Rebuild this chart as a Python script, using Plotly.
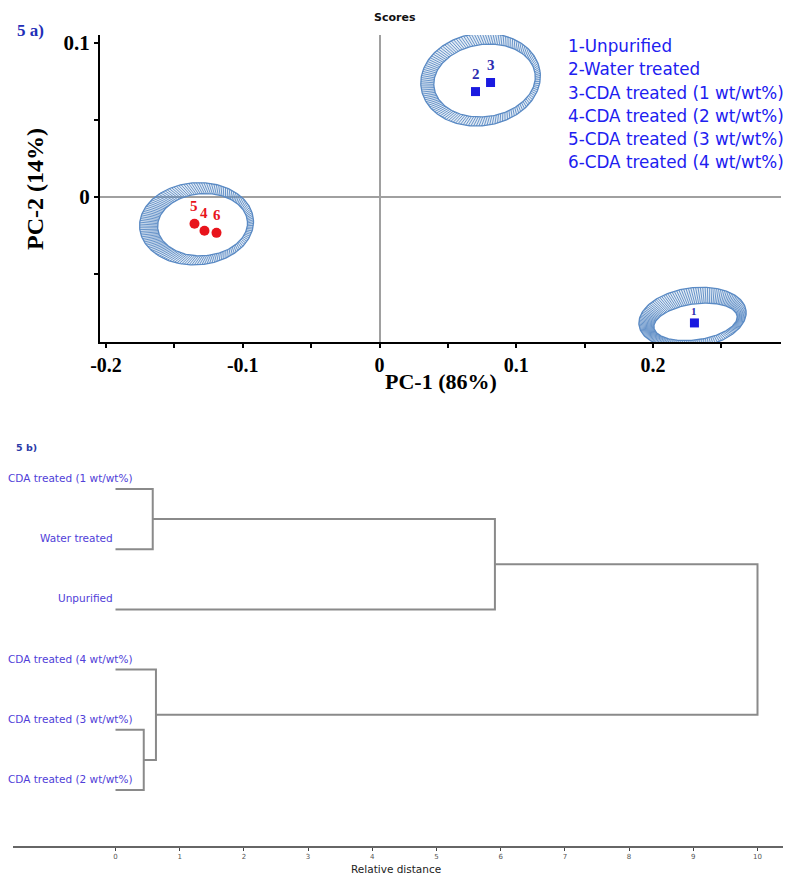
import numpy as np
import plotly.graph_objects as go

W, H = 790, 876

# ---------------- Panel a: PCA scores ----------------
sample_ids = ["1", "2", "3", "4", "5", "6"]
legend_lines = ["1-Unpurified", "2-Water treated", "3-CDA treated (1 wt/wt%)",
                "4-CDA treated (2 wt/wt%)", "5-CDA treated (3 wt/wt%)", "6-CDA treated (4 wt/wt%)"]
pc1 = [0.2303, 0.0702, 0.0812, -0.1280, -0.1353, -0.1192]
pc2 = [-0.0821, 0.0684, 0.0743, -0.0221, -0.0176, -0.0235]
blue_idx = [0, 1, 2]
red_idx = [3, 4, 5]

# confidence ellipses (outer & inner rim of the hatched ring)
ell_cx = [0.2289, 0.0739, -0.1338]
ell_cy = [-0.0788, 0.0762, -0.0176]
ell_rx = [0.0395, 0.0439, 0.0417]
ell_ry = [0.0195, 0.0300, 0.0267]
inn_cx = [0.2311, 0.0768, -0.1294]
inn_cy = [-0.0814, 0.0756, -0.0182]
inn_rx = [0.0307, 0.0373, 0.0329]
inn_ry = [0.0117, 0.0235, 0.0202]
ell_ang = [8, 8, 4]

x_ticks = [-0.2, -0.1, 0, 0.1, 0.2]
y_ticks = [0, 0.1]
x_range = [-0.2044, 0.2936]
y_range = [-0.0945, 0.1052]

# ---------------- Panel b: dendrogram ----------------
leaf_labels = ["CDA treated (1 wt/wt%)", "Water treated", "Unpurified",
               "CDA treated (4 wt/wt%)", "CDA treated (3 wt/wt%)", "CDA treated (2 wt/wt%)"]
leaf_pos = [6, 5, 4, 3, 2, 1]
merge_a = [4, 0, 3, 7, 9]
merge_b = [5, 1, 6, 2, 8]
merge_d = [0.44, 0.58, 0.63, 5.91, 10.0]
dist_ticks = list(range(0, 11))

# layout geometry (pixels)
ax_l, ax_r, ax_t, ax_b = 100, 781, 35, 342
bx_l, bx_r, bx_t, bx_b = 13, 783, 470, 846

sx = (ax_r - ax_l) / (x_range[1] - x_range[0])
sy = (ax_b - ax_t) / (y_range[1] - y_range[0])

fig = go.Figure()

ring_col = "#5a8ac4"
t = np.linspace(0, 2 * np.pi, 241)
for i in range(len(ell_cx)):
    th = np.deg2rad(ell_ang[i])

    def ell(cx, cy, rx, ry, tt):
        u = rx * sx * np.cos(tt)
        v = ry * sy * np.sin(tt)
        ur = u * np.cos(th) - v * np.sin(th)
        vr = u * np.sin(th) + v * np.cos(th)
        return cx + ur / sx, cy + vr / sy

    ox, oy = ell(ell_cx[i], ell_cy[i], ell_rx[i], ell_ry[i], t)
    ix, iy = ell(inn_cx[i], inn_cy[i], inn_rx[i], inn_ry[i], t)
    fig.add_trace(go.Scatter(x=np.concatenate([ox, ix[::-1]]), y=np.concatenate([oy, iy[::-1]]),
                             mode="lines", fill="toself", fillcolor="rgba(90,138,196,0.18)",
                             line=dict(width=0), hoverinfo="skip", showlegend=False))
    n = 140
    th_h = np.linspace(0, 2 * np.pi, n, endpoint=False)
    hx0, hy0 = ell(ell_cx[i], ell_cy[i], ell_rx[i], ell_ry[i], th_h)
    hx1, hy1 = ell(inn_cx[i], inn_cy[i], inn_rx[i], inn_ry[i], th_h)
    hx, hy = [], []
    for k in range(n):
        hx += [hx0[k], hx1[k], None]
        hy += [hy0[k], hy1[k], None]
    fig.add_trace(go.Scatter(x=hx, y=hy, mode="lines", line=dict(color=ring_col, width=0.9),
                             hoverinfo="skip", showlegend=False))
    for xx, yy in ((ox, oy), (ix, iy)):
        fig.add_trace(go.Scatter(x=xx, y=yy, mode="lines", line=dict(color=ring_col, width=1.3),
                                 hoverinfo="skip", showlegend=False))

fig.add_trace(go.Scatter(x=[pc1[i] for i in blue_idx], y=[pc2[i] for i in blue_idx],
                         mode="markers", marker=dict(symbol="square", size=9, color="#1a1ae0"),
                         showlegend=False))
fig.add_trace(go.Scatter(x=[pc1[i] for i in red_idx], y=[pc2[i] for i in red_idx],
                         mode="markers", marker=dict(symbol="circle", size=10, color="#e8141c"),
                         showlegend=False))

# point labels
for i in range(6):
    color = "#e8141c" if i in red_idx else "#2c2cb0"
    sz = 11 if i == 0 else 15
    fig.add_annotation(x=pc1[i], y=pc2[i], xref="x", yref="y", text="<b>%s</b>" % sample_ids[i],
                       showarrow=False, yshift=18 if i != 0 else 12,
                       font=dict(family="Liberation Serif", size=sz, color=color))

fig.add_trace(go.Scatter(x=[0], y=[0], xaxis="x2", yaxis="y2", mode="markers",
                         marker=dict(size=0.1, color="rgba(0,0,0,0)"), showlegend=False, hoverinfo="skip"))

# dendrogram lines
node_x = {k: 0.0 for k in range(6)}
node_y = {k: float(leaf_pos[k]) for k in range(6)}
dx, dy = [], []
for m in range(len(merge_d)):
    a, b, d = merge_a[m], merge_b[m], merge_d[m]
    dx += [node_x[a], d, d, node_x[b], None]
    dy += [node_y[a], node_y[a], node_y[b], node_y[b], None]
    nid = 6 + m
    node_x[nid] = d
    node_y[nid] = (node_y[a] + node_y[b]) / 2
fig.add_trace(go.Scatter(x=dx, y=dy, xaxis="x2", yaxis="y2", mode="lines",
                         line=dict(color="#8a8a8a", width=2), showlegend=False, hoverinfo="skip"))

b_x_range = [(bx_l - 115.5) / 64.2, (bx_r - 115.5) / 64.2]
b_y_range = [1 - (bx_b - 790) / 60.2, 6 + (489 - bx_t) / 60.2]

leaf_col = "#5040d8"
for k in range(6):
    long = len(leaf_labels[k]) > 15
    fig.add_annotation(x=(6 / W) if long else (115 / W), xref="paper", xanchor="left" if long else "right",
                       y=leaf_pos[k], yref="y2", yshift=11, text=leaf_labels[k], showarrow=False,
                       font=dict(family="DejaVu Sans", size=10.5, color=leaf_col))

serif_b = dict(family="Liberation Serif", size=20, color="black")
fig.update_layout(
    width=W, height=H, margin=dict(l=0, r=0, t=0, b=0, autoexpand=False),
    paper_bgcolor="white", plot_bgcolor="white",
    xaxis=dict(domain=[ax_l / W, ax_r / W], range=x_range, anchor="y", automargin=False,
               tickvals=x_ticks, ticktext=["<b>%s</b>" % ("0" if v == 0 else ("%g" % v)) for v in x_ticks],
               tickfont=serif_b, ticks="outside", ticklen=4, tickcolor="black", tickwidth=1.5,
               showline=True, linecolor="black", linewidth=2.2, showgrid=False,
               zeroline=True, zerolinecolor="#a0a0a0", zerolinewidth=1.5,
               minor=dict(tickvals=[-0.15, -0.05, 0.05, 0.15, 0.25], ticks="outside", ticklen=4,
                          tickcolor="black", tickwidth=1.5)),
    yaxis=dict(domain=[1 - ax_b / H, 1 - ax_t / H], range=y_range, anchor="x", automargin=False,
               tickvals=y_ticks, ticktext=["<b>0</b>", "<b>0.1</b>"],
               tickfont=dict(family="Liberation Serif", size=21, color="black"),
               ticks="outside", ticklen=4, tickcolor="black", tickwidth=1.5,
               showline=True, linecolor="black", linewidth=2.2, showgrid=False,
               zeroline=True, zerolinecolor="#a0a0a0", zerolinewidth=1.5,
               minor=dict(tickvals=[-0.05, 0.05], ticks="outside", ticklen=4,
                          tickcolor="black", tickwidth=1.5)),
    xaxis2=dict(domain=[bx_l / W, bx_r / W], range=b_x_range, anchor="y2", automargin=False,
                tickvals=dist_ticks, ticks="outside", ticklen=3, tickcolor="#444",
                tickfont=dict(family="DejaVu Sans", size=7, color="#555"),
                showline=True, linecolor="#666", linewidth=2, showgrid=False, zeroline=False),
    yaxis2=dict(domain=[1 - bx_b / H, 1 - bx_t / H], range=b_y_range, anchor="x2", automargin=False,
                visible=False, showgrid=False, zeroline=False),
)

# titles / labels
def ann(x, y, text, font, xanchor="center", **kw):
    fig.add_annotation(x=x / W, y=1 - y / H, xref="paper", yref="paper", text=text,
                       showarrow=False, xanchor=xanchor, yanchor="middle", font=font, **kw)

ann(395, 18, "<b>Scores</b>", dict(family="DejaVu Sans", size=11, color="#111"))
ann(30, 31, "<b>5 a)</b>", dict(family="Liberation Serif", size=17, color="#1f2fb8"))
ann(441, 381, "<b>PC-1 (86%)</b>", dict(family="Liberation Serif", size=22, color="black"))
ann(35, 189, "<b>PC-2 (14%)</b>", dict(family="Liberation Serif", size=24, color="black"), textangle=-90)
for j, line in enumerate(legend_lines):
    ann(566, 46 + j * 23.3, line, dict(family="DejaVu Sans", size=16.8, color="#2020f0"), xanchor="left")
ann(14, 447, "<b>5 b)</b>", dict(family="DejaVu Sans", size=9.5, color="#2a3aa8"), xanchor="left")
ann(396, 869, "Relative distance", dict(family="DejaVu Sans", size=10.5, color="#222"))

fig.write_html("out.html")
